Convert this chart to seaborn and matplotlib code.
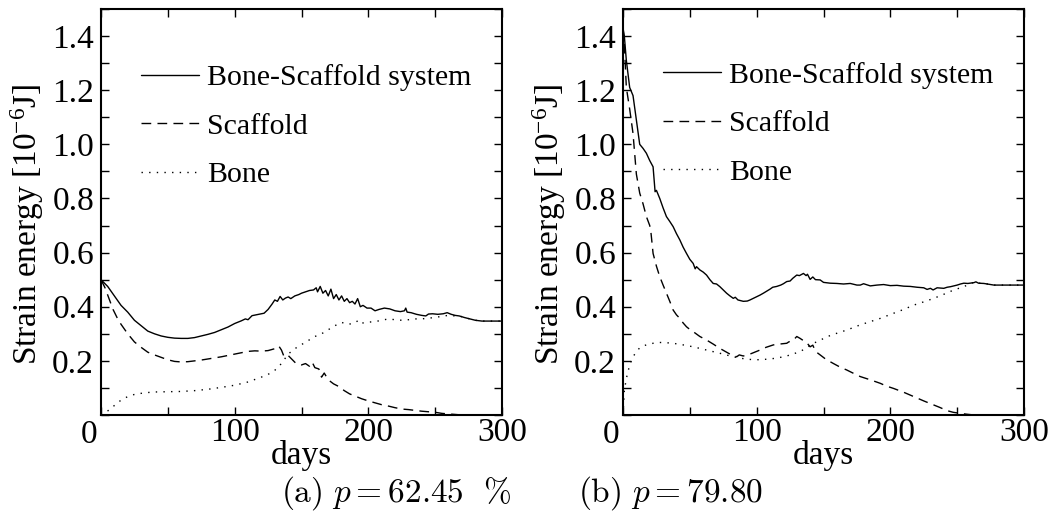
import matplotlib
matplotlib.use('Agg')
import matplotlib.pyplot as plt
import seaborn as sns
from matplotlib.ticker import MultipleLocator

sns.set_theme()
sns.set_style("ticks")
plt.rcParams['font.family'] = ['Liberation Serif', 'DejaVu Serif']
plt.rcParams['mathtext.fontset'] = 'custom'
plt.rcParams['mathtext.rm'] = 'Liberation Serif'
plt.rcParams['mathtext.it'] = 'Liberation Serif:italic'
plt.rcParams['text.color'] = 'black'
plt.rcParams['axes.labelcolor'] = 'black'
plt.rcParams['xtick.color'] = 'black'
plt.rcParams['ytick.color'] = 'black'

# (a) p = 62.45 %
a_sys_days = [0, 5, 10, 15, 20, 25, 30, 35, 40, 45, 50, 55, 60, 65, 70, 75, 80, 85, 90, 95,
              100, 105, 108, 110, 113, 118, 122, 125, 128, 130, 132, 134, 136, 138, 140, 142,
              145, 148, 150, 153, 156, 159, 161, 162, 164, 166, 168, 170, 172, 174, 176, 178,
              180, 182, 184, 186, 188, 190, 192, 194, 196, 199, 202, 205, 208, 212, 216, 220,
              224, 227, 228, 229, 232, 236, 240, 243, 245, 248, 252, 256, 259, 262, 265, 268,
              272, 276, 280, 285, 290, 300]
a_sys = [0.50, 0.475, 0.44, 0.405, 0.38, 0.35, 0.33, 0.31, 0.30, 0.292, 0.287, 0.284, 0.283,
         0.283, 0.286, 0.292, 0.298, 0.305, 0.315, 0.325, 0.338, 0.348, 0.355, 0.352, 0.367,
         0.372, 0.376, 0.39, 0.41, 0.425, 0.42, 0.438, 0.425, 0.432, 0.436, 0.43, 0.44, 0.445,
         0.45, 0.455, 0.46, 0.462, 0.47, 0.455, 0.475, 0.45, 0.46, 0.44, 0.465, 0.43, 0.445,
         0.425, 0.44, 0.42, 0.43, 0.415, 0.42, 0.41, 0.43, 0.40, 0.405, 0.395, 0.395, 0.385,
         0.39, 0.395, 0.392, 0.385, 0.382, 0.385, 0.395, 0.38, 0.378, 0.372, 0.368, 0.366,
         0.373, 0.374, 0.372, 0.374, 0.378, 0.372, 0.368, 0.366, 0.36, 0.355, 0.35, 0.347,
         0.347, 0.347]

a_scaf_days = [0, 3, 6, 9, 12, 15, 20, 25, 30, 35, 40, 45, 50, 55, 60, 65, 70, 75, 80, 85, 90,
               95, 100, 105, 110, 115, 120, 125, 130, 133, 135, 137, 140, 143, 146, 150, 153,
               156, 158, 160, 163, 165, 167, 170, 174, 178, 182, 186, 190, 195, 200, 205, 210,
               215, 220, 225, 230, 235, 240, 245, 250, 255, 260, 265, 270, 300]
a_scaf = [0.50, 0.47, 0.43, 0.39, 0.36, 0.335, 0.30, 0.27, 0.25, 0.232, 0.222, 0.213, 0.204,
          0.198, 0.196, 0.197, 0.20, 0.203, 0.207, 0.211, 0.215, 0.22, 0.225, 0.23, 0.235,
          0.237, 0.236, 0.238, 0.245, 0.255, 0.24, 0.215, 0.22, 0.205, 0.19, 0.185, 0.19, 0.18,
          0.195, 0.175, 0.17, 0.14, 0.155, 0.13, 0.115, 0.105, 0.09, 0.078, 0.07, 0.06, 0.052,
          0.045, 0.038, 0.033, 0.027, 0.022, 0.02, 0.017, 0.014, 0.012, 0.01, 0.006, 0.004,
          0.002, 0.0, 0.0]

a_bone_days = [0, 5, 10, 15, 20, 25, 30, 35, 40, 50, 60, 70, 80, 90, 100, 110, 120, 125, 130,
               135, 140, 145, 150, 155, 160, 165, 170, 175, 180, 185, 190, 193, 196, 200, 205,
               210, 215, 220, 225, 230, 235, 240, 245, 250, 255, 260, 265, 268, 272, 276, 280,
               285, 290, 300]
a_bone = [0.0, 0.015, 0.035, 0.055, 0.068, 0.076, 0.08, 0.083, 0.085, 0.086, 0.087, 0.09,
          0.095, 0.102, 0.11, 0.122, 0.14, 0.15, 0.165, 0.19, 0.225, 0.245, 0.26, 0.275, 0.29,
          0.30, 0.315, 0.33, 0.342, 0.335, 0.34, 0.352, 0.34, 0.343, 0.345, 0.35, 0.355, 0.352,
          0.35, 0.352, 0.355, 0.355, 0.358, 0.36, 0.365, 0.368, 0.366, 0.366, 0.36, 0.355,
          0.35, 0.347, 0.347, 0.347]

# (b) p = 79.80
b_sys_days = [0, 1, 2.5, 5, 7.5, 10, 12.5, 15, 17.5, 20, 22.5, 24, 25, 27.5, 30, 32.5, 35,
              37.5, 40, 42.5, 45, 47.5, 50, 52.5, 54, 55, 57.5, 60, 62.5, 65, 67.5, 70, 72.5,
              75, 77.5, 80, 82.5, 84, 86, 90, 93, 95, 100, 102.5, 105, 110, 112, 115, 118, 120,
              122.5, 125, 127, 130, 132, 135, 137, 138, 140, 142, 144, 147.5, 150, 155, 160,
              165, 170, 175, 177.5, 180, 185, 190, 195, 200, 205, 210, 215, 220, 225, 227.5,
              230, 232, 235, 240, 242.5, 245, 250, 252.5, 255, 258, 262.5, 264, 266, 270,
              277.5, 285, 300]
b_sys = [1.43, 1.40, 1.31, 1.21, 1.18, 1.09, 1.0, 0.985, 0.967, 0.94, 0.917, 0.825, 0.83,
         0.80, 0.765, 0.733, 0.715, 0.696, 0.67, 0.647, 0.62, 0.597, 0.575, 0.56, 0.54, 0.548,
         0.536, 0.528, 0.517, 0.50, 0.486, 0.484, 0.474, 0.462, 0.45, 0.44, 0.431, 0.435,
         0.425, 0.42, 0.421, 0.425, 0.437, 0.443, 0.45, 0.465, 0.472, 0.475, 0.48, 0.485,
         0.493, 0.495, 0.505, 0.517, 0.515, 0.523, 0.515, 0.52, 0.501, 0.51, 0.50, 0.499,
         0.49, 0.487, 0.486, 0.484, 0.486, 0.48, 0.48, 0.485, 0.477, 0.48, 0.482, 0.478,
         0.479, 0.476, 0.475, 0.472, 0.47, 0.464, 0.468, 0.462, 0.47, 0.468, 0.472, 0.474,
         0.48, 0.484, 0.487, 0.486, 0.489, 0.492, 0.487, 0.486, 0.48, 0.48, 0.48]

b_scaf_days = [0, 1, 2.5, 5, 7.5, 10, 12.5, 15, 17.5, 20, 21, 22.5, 25, 27.5, 30, 32.5, 35,
               37.5, 40, 42.5, 45, 47.5, 50, 52.5, 57.5, 62.5, 67.5, 72.5, 77.5, 80, 82.5, 85,
               87, 90, 95, 100, 102.5, 107, 112.5, 117, 122.5, 124, 127.5, 130, 132.5, 134,
               137, 140, 142, 144, 147.5, 152, 157.5, 162, 167.5, 172, 177.5, 185, 192.5, 197,
               202.5, 210, 217.5, 225, 232.5, 237, 242.5, 247, 252.5, 257, 262.5, 300]
b_scaf = [1.43, 1.37, 1.21, 1.13, 1.04, 0.89, 0.82, 0.78, 0.733, 0.70, 0.67, 0.597, 0.55,
          0.511, 0.48, 0.45, 0.42, 0.388, 0.37, 0.357, 0.34, 0.326, 0.316, 0.308, 0.29, 0.277,
          0.262, 0.246, 0.232, 0.225, 0.222, 0.215, 0.222, 0.218, 0.225, 0.235, 0.24, 0.25,
          0.259, 0.262, 0.265, 0.27, 0.277, 0.29, 0.283, 0.278, 0.27, 0.252, 0.258, 0.235,
          0.222, 0.205, 0.19, 0.178, 0.166, 0.155, 0.142, 0.13, 0.117, 0.107, 0.098, 0.084,
          0.068, 0.052, 0.037, 0.028, 0.016, 0.01, 0.006, 0.003, 0.0, 0.0]

b_bone_days = [0, 1, 2.5, 5, 7.5, 10, 12.5, 15, 17.5, 22.5, 27.5, 32.5, 37.5, 45, 52.5, 60,
               67.5, 75, 82.5, 92.5, 100, 107.5, 115, 122.5, 132.5, 137, 142.5, 147, 152.5,
               160, 167.5, 177.5, 185, 192.5, 202.5, 210, 217.5, 225, 232.5, 240, 247.5, 255,
               260, 264, 266, 270, 277.5, 285, 300]
b_bone = [0.0, 0.09, 0.135, 0.185, 0.215, 0.234, 0.248, 0.255, 0.259, 0.265, 0.268, 0.267,
          0.265, 0.259, 0.252, 0.243, 0.234, 0.225, 0.215, 0.206, 0.204, 0.206, 0.21, 0.218,
          0.234, 0.248, 0.265, 0.275, 0.289, 0.302, 0.314, 0.333, 0.345, 0.357, 0.376, 0.39,
          0.406, 0.418, 0.431, 0.446, 0.462, 0.474, 0.486, 0.492, 0.487, 0.486, 0.48, 0.48,
          0.48]

labels = ['Bone-Scaffold system', 'Scaffold', 'Bone']
captions = [r'$\mathrm{(a)}\ p = 62.45\ \ \%$', r'$\mathrm{(b)}\ p = 79.80$']

panels = [
    [(a_sys_days, a_sys), (a_scaf_days, a_scaf), (a_bone_days, a_bone)],
    [(b_sys_days, b_sys), (b_scaf_days, b_scaf), (b_bone_days, b_bone)],
]
dash_styles = [None, (7, 4.5), (1, 4.5)]

fig = plt.figure(figsize=(10.56, 5.17), dpi=100)
ax_lefts = [101 / 1056, 623 / 1056]
w, h = 401 / 1056, 406 / 517
bottom = 102 / 517

for k, series in enumerate(panels):
    ax = fig.add_axes([ax_lefts[k], bottom, w, h])
    for (days, vals), lab, dsh in zip(series, labels, dash_styles):
        sns.lineplot(x=days, y=vals, ax=ax, color='black', linewidth=1.0,
                     label=lab, estimator=None, sort=False)
        if dsh is not None:
            ax.lines[-1].set_dashes(dsh)

    ax.set_xlim(0, 300)
    ax.set_ylim(0, 1.5)
    ax.xaxis.set_minor_locator(MultipleLocator(50))
    ax.yaxis.set_minor_locator(MultipleLocator(0.1))
    ax.set_xticks([100, 200, 300])
    ax.set_yticks([0.2, 0.4, 0.6, 0.8, 1.0, 1.2, 1.4])
    ax.set_yticklabels(['0.2', '0.4', '0.6', '0.8', '1.0', '1.2', '1.4'])
    ax.tick_params(which='both', direction='in', top=True, right=True,
                   length=6, width=1.0, labelsize=24, color='black')
    ax.tick_params(axis='x', pad=2)
    ax.tick_params(axis='y', pad=5)
    ax.text(-0.031, -0.01, '0', transform=ax.transAxes, ha='center', va='top',
            fontsize=24)
    for sp in ax.spines.values():
        sp.set_linewidth(1.5)
        sp.set_color('black')

    ax.set_xlabel('days', fontsize=24, labelpad=-6)
    ax.set_ylabel(r'Strain energy [10$^{-6}$J]', fontsize=24)
    ax.yaxis.set_label_coords(-0.137, 0.47)

    ax.legend(frameon=False, fontsize=21.5, loc='upper left',
              bbox_to_anchor=(0.07, 0.893 + 0.006 * k), handlelength=1.95,
              handletextpad=0.25, labelspacing=0.72, borderaxespad=0)

for cap, cx in zip(captions, [396, 671]):
    fig.text(cx / 1056, 1 - 493 / 517, cap, ha='center', va='center', fontsize=24,
             math_fontfamily='cm')

fig.savefig('out.png', dpi=100, facecolor='white')
